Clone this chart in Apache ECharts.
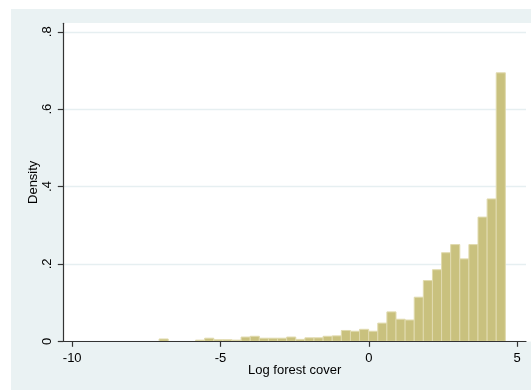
<!DOCTYPE html>
<html>
<head>
<meta charset="utf-8">
<script src="https://cdn.jsdelivr.net/npm/echarts@6/dist/echarts.min.js"></script>
<style>
html,body{margin:0;padding:0;background:#ffffff;}
#c{width:531px;height:390px;}
</style>
</head>
<body>
<div id="c"></div>
<script>
// Histogram definition (bin layout) and densities
var binStart = -7.07;
var binWidth = 0.3072;
var densities = [
  0.006, 0, 0, 0, 0.003, 0.008, 0.004, 0.004, 0.003, 0.011,
  0.013, 0.008, 0.008, 0.008, 0.011, 0.005, 0.009, 0.009, 0.013, 0.014,
  0.028, 0.026, 0.031, 0.026, 0.047, 0.076, 0.057, 0.055, 0.114, 0.157,
  0.185, 0.229, 0.250, 0.213, 0.250, 0.321, 0.368, 0.694
];
var xTicks = [-10, -5, 0, 5];
var yTicks = [0, 0.2, 0.4, 0.6, 0.8];
var xTitle = 'Log forest cover';
var yTitle = 'Density';

var data = densities.map(function (d, k) {
  return [binStart + k * binWidth, binStart + (k + 1) * binWidth, d];
});

function stataFmt(v) {
  if (v === 0) return '0';
  var s = String(+v.toFixed(4));
  return s.replace(/^(-?)0\./, '$1.');
}

var chart = echarts.init(document.getElementById('c'), null, {renderer: 'canvas'});
chart.setOption({
  animation: false,
  backgroundColor: '#ffffff',
  graphic: [
    {type: 'rect', z: -100, shape: {x: 11, y: 9, width: 520, height: 381}, style: {fill: '#EAF2F3'}, silent: true},
    {type: 'rect', z: -99, shape: {x: 63, y: 23, width: 468, height: 318.5}, style: {fill: '#ffffff'}, silent: true}
  ],
  grid: {left: 63.3, right: 5, top: 23.3, bottom: 48.7, containLabel: false},
  xAxis: {
    type: 'value',
    min: -10.3,
    max: 5.3,
    z: 5,
    name: xTitle,
    nameLocation: 'middle',
    nameGap: 23,
    nameMoveOverlap: false,
    nameTextStyle: {color: '#000', fontSize: 13, fontFamily: 'Liberation Sans, Arial, sans-serif'},
    axisLine: {show: true, onZero: false, lineStyle: {color: '#333333', width: 1.2}},
    axisTick: {show: true, length: 5.5, customValues: xTicks, lineStyle: {color: '#333333', width: 1.2}},
    axisLabel: {customValues: xTicks, margin: 11, color: '#000', fontSize: 13, fontFamily: 'Liberation Sans, Arial, sans-serif', formatter: function (v) { return String(v); }},
    splitLine: {show: false}
  },
  yAxis: {
    type: 'value',
    min: 0,
    max: 0.822,
    interval: 0.2,
    name: yTitle,
    nameLocation: 'middle',
    nameGap: 23,
    nameMoveOverlap: false,
    nameTextStyle: {color: '#000', fontSize: 13, fontFamily: 'Liberation Sans, Arial, sans-serif'},
    axisLine: {show: true, onZero: false, lineStyle: {color: '#333333', width: 1.2}},
    axisTick: {show: true, length: 5.5, customValues: yTicks, lineStyle: {color: '#333333', width: 1.2}},
    axisLabel: {customValues: yTicks, rotate: 90, margin: 9, color: '#000', fontSize: 13, fontFamily: 'Liberation Sans, Arial, sans-serif', formatter: stataFmt},
    splitLine: {show: true, lineStyle: {color: '#E6EFF1', width: 1.3}}
  },
  series: [{
    type: 'custom',
    data: data,
    renderItem: function (params, api) {
      var x0 = api.value(0), x1 = api.value(1), y = api.value(2);
      if (!(y > 0)) return null;
      var p0 = api.coord([x0, 0]);
      var p1 = api.coord([x1, y]);
      return {
        type: 'rect',
        shape: {x: p0[0], y: p1[1], width: p1[0] - p0[0], height: p0[1] - p1[1]},
        style: {fill: '#C9C17E', stroke: '#E0DAAE', lineWidth: 1}
      };
    },
    encode: {x: [0, 1], y: 2}
  }]
});
</script>
</body>
</html>
